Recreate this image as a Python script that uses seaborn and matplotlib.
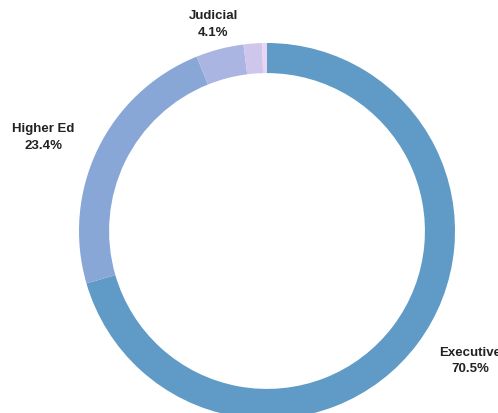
import numpy as np
import matplotlib.pyplot as plt
import seaborn as sns

branches = ['Executive', 'Higher Ed', 'Judicial', 'Legislative', 'Other']
shares = [70.5, 23.4, 4.1, 1.6, 0.4]
colors = ['#5f9bc6', '#88a7d6', '#abb5e1', '#cfc6ec', '#e6d6f2']

sns.set_theme(style="white")
plt.rcParams['font.family'] = ['Liberation Sans', 'DejaVu Sans']

fig = plt.figure(figsize=(4.98, 4.14), dpi=100)
ax = fig.add_axes([0, 0, 1, 1])

wedges, _ = ax.pie(shares, colors=colors, startangle=90, counterclock=False,
                   radius=1.0, wedgeprops=dict(width=0.16, linewidth=0))

# labels only for the bigger slices: (radius, angle nudge in degrees)
label_pos = {'Executive': (1.28, 4.5), 'Higher Ed': (1.29, 3.0), 'Judicial': (1.14, 0.0)}
for w, name, v in zip(wedges, branches, shares):
    if name not in label_pos:
        continue
    r, nudge = label_pos[name]
    ang = np.deg2rad((w.theta1 + w.theta2) / 2 + nudge)
    ax.text(r * np.cos(ang), r * np.sin(ang), f"{name}\n{v}%",
            ha='center', va='center', fontsize=9.5, fontweight='bold',
            color='#222222', linespacing=1.5)

ax.set_xlim(-267 / 188, (498 - 267) / 188)
ax.set_ylim(-(414 - 232) / 188, 232 / 188)
ax.set_aspect('equal')
ax.axis('off')

plt.savefig('out.png', dpi=100)
